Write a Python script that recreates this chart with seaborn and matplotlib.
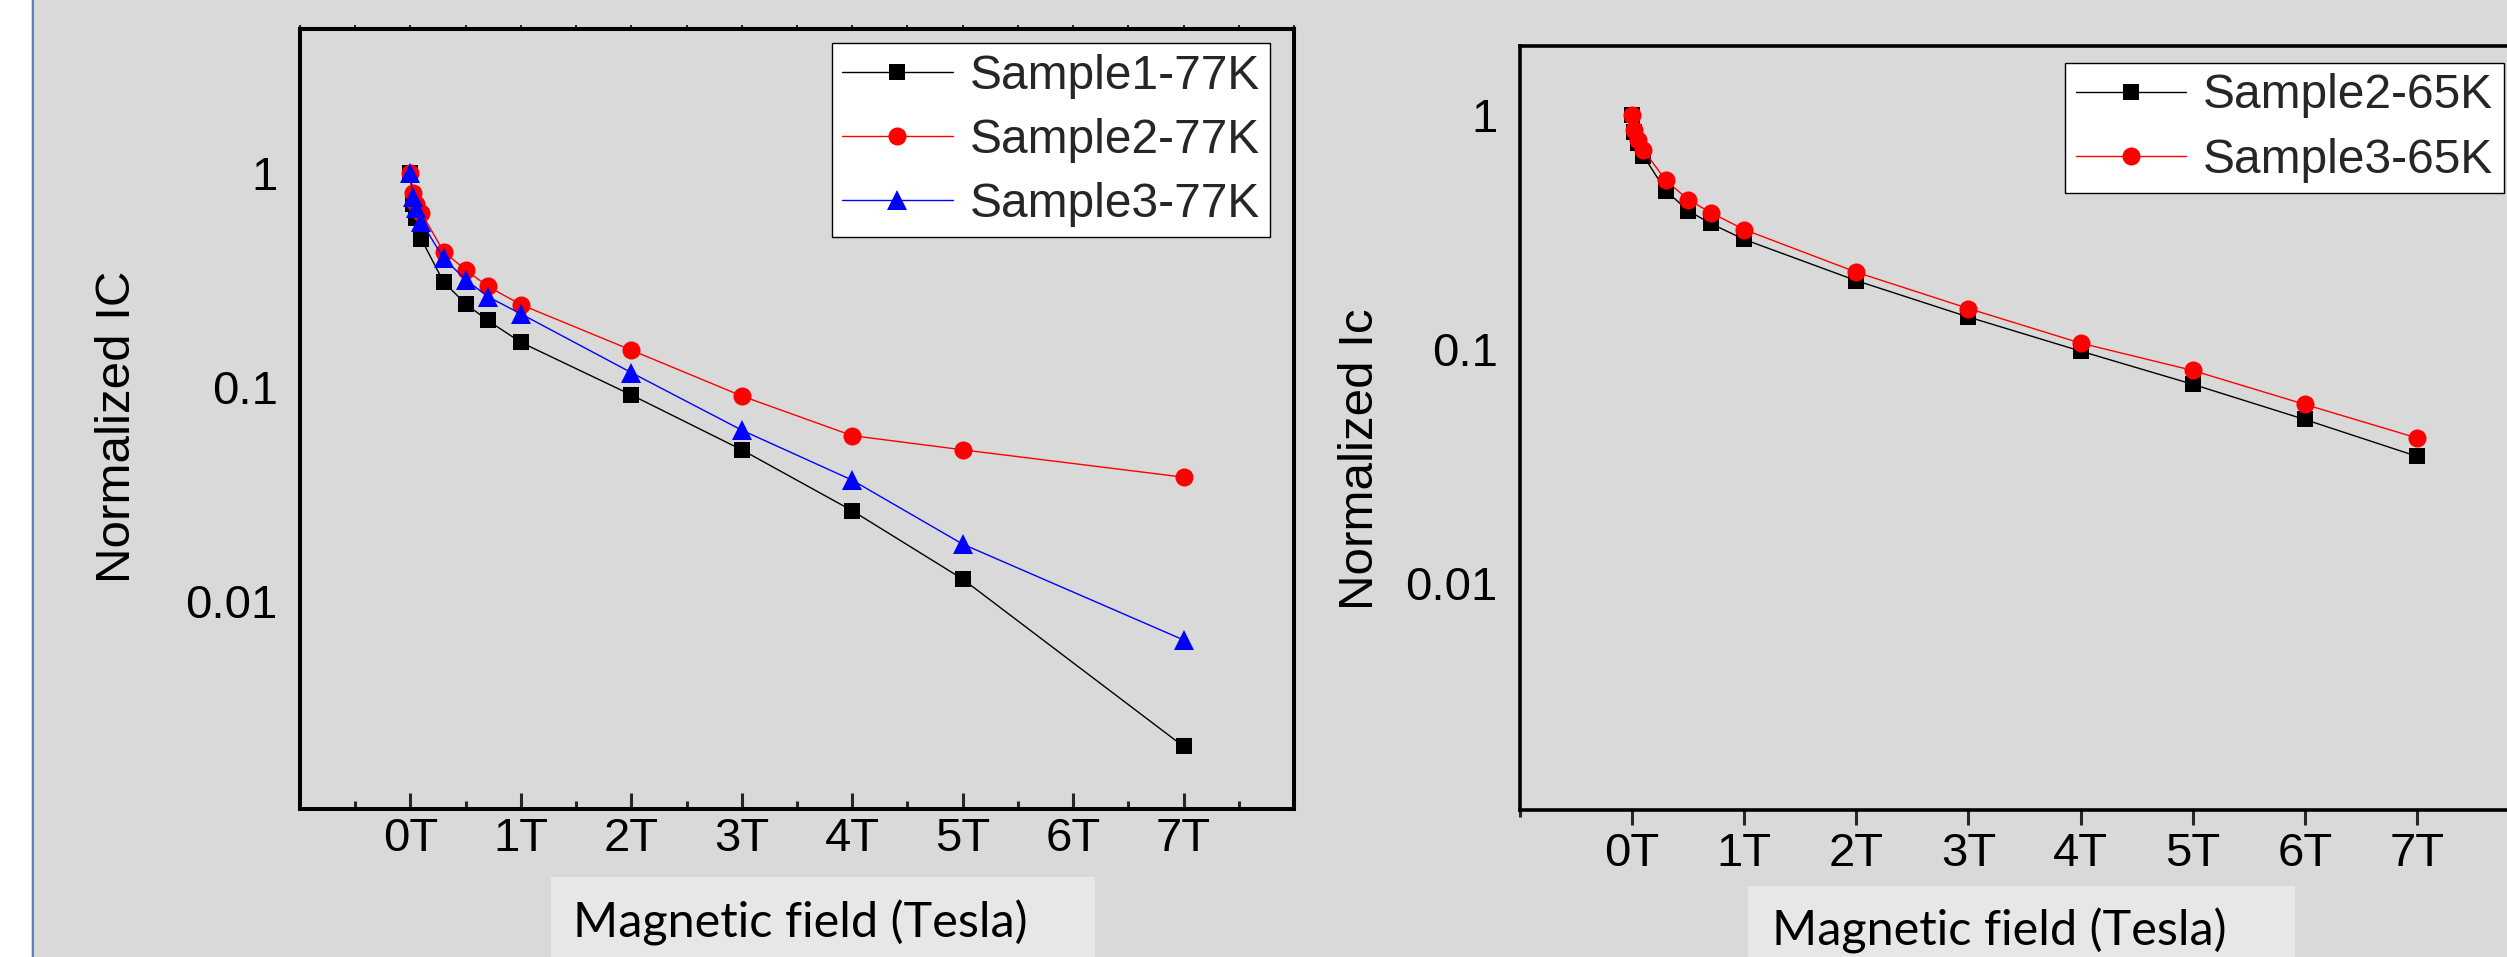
import matplotlib
matplotlib.use("Agg")
import matplotlib.pyplot as plt
from matplotlib.patches import Rectangle
from matplotlib.lines import Line2D
from matplotlib.ticker import FixedLocator, NullLocator
import seaborn as sns

# ---- data -------------------------------------------------------------
field_77k = [0, 0.02, 0.05, 0.1, 0.3, 0.5, 0.7, 1, 2, 3, 4, 5, 7]
sample1_77k = [1.0, 0.72, 0.62, 0.49, 0.31, 0.245, 0.205, 0.162, 0.092, 0.051, 0.0265, 0.0127, 0.0021]
sample2_77k = [1.0, 0.81, 0.72, 0.65, 0.43, 0.353, 0.296, 0.243, 0.149, 0.091, 0.0594, 0.051, 0.038]
sample3_77k = [1.0, 0.77, 0.69, 0.59, 0.40, 0.318, 0.265, 0.22, 0.117, 0.063, 0.0368, 0.0185, 0.0066]

field_65k = [0, 0.02, 0.05, 0.1, 0.3, 0.5, 0.7, 1, 2, 3, 4, 5, 6, 7]
sample2_65k = [1.0, 0.85, 0.76, 0.67, 0.475, 0.39, 0.344, 0.294, 0.196, 0.137, 0.098, 0.0707, 0.050, 0.0348]
sample3_65k = [1.0, 0.86, 0.78, 0.71, 0.526, 0.435, 0.383, 0.324, 0.213, 0.149, 0.106, 0.081, 0.058, 0.0417]

labels_77k = ["Sample1-77K", "Sample2-77K", "Sample3-77K"]
labels_65k = ["Sample2-65K", "Sample3-65K"]

xtick_values = [0, 1, 2, 3, 4, 5, 6, 7]
xtick_labels = ["0T", "1T", "2T", "3T", "4T", "5T", "6T", "7T"]
ytick_values = [1, 0.1, 0.01]
ytick_labels = ["1", "0.1", "0.01"]

xlabel_text = "Magnetic field (Tesla)"
ylabel_left = "Normalized IC"
ylabel_right = "Normalized Ic"

# ---- styling ----------------------------------------------------------
BG = "#D9D9D9"
BOX = "#E7E7E7"
REGULAR = ["Liberation Sans", "DejaVu Sans"]
LABEL_FONT = ["Lato", "Open Sans", "DejaVu Sans"]

sns.set_style("white")
plt.rcParams["font.family"] = REGULAR
plt.rcParams["axes.facecolor"] = BG
plt.rcParams["figure.facecolor"] = BG

series_style = {
    "black": dict(color="#000000", marker="s", markersize=12),
    "red": dict(color="#FF0000", marker="o", markersize=13),
    "blue": dict(color="#0000FF", marker="^", markersize=15),
}

W, H = 2507, 957
fig = plt.figure(figsize=(W / 100, H / 100), dpi=100, facecolor=BG)

# white margin and thin blue rule at the left edge
fig.patches.append(Rectangle((0, 0), 31 / W, 1, transform=fig.transFigure,
                             facecolor="white", edgecolor="none", zorder=0))
fig.lines.append(Line2D([32.5 / W, 32.5 / W], [0, 1], transform=fig.transFigure,
                        color="#5B82B8", linewidth=1.5))


def px_box(x0, y0, x1, y1):
    """Figure-fraction rectangle from pixel corners (top-left origin)."""
    return [x0 / W, 1 - y1 / H, (x1 - x0) / W, (y1 - y0) / H]


ax1 = fig.add_axes(px_box(300, 29, 1294, 809))
ax2 = fig.add_axes(px_box(1520, 46, 2529, 810))


def draw(ax, x, y, label, style):
    sns.lineplot(x=x, y=y, ax=ax, label=label, sort=False, estimator=None,
                 color=style["color"], marker=style["marker"],
                 markersize=style["markersize"], markeredgewidth=0,
                 linewidth=1.0, zorder=3, clip_on=False)


draw(ax1, field_77k, sample1_77k, labels_77k[0], series_style["black"])
draw(ax1, field_77k, sample2_77k, labels_77k[1], series_style["red"])
draw(ax1, field_77k, sample3_77k, labels_77k[2], series_style["blue"])

draw(ax2, field_65k, sample2_65k, labels_65k[0], series_style["black"])
draw(ax2, field_65k, sample3_65k, labels_65k[1], series_style["red"])

for ax in (ax1, ax2):
    ax.set_facecolor(BG)
    ax.set_yscale("log")
    ax.set_xlim(-1, 8)
    ax.yaxis.set_major_locator(FixedLocator(ytick_values))
    ax.set_yticklabels(ytick_labels)
    ax.yaxis.set_minor_locator(NullLocator())
    ax.xaxis.set_major_locator(FixedLocator(xtick_values))
    ax.set_xticklabels(xtick_labels)
    ax.set_xlabel("")
    for t in ax.get_xticklabels() + ax.get_yticklabels():
        t.set_fontsize(34)
        t.set_color("black")
    for s in ax.spines.values():
        s.set_color("black")
    ax.tick_params(axis="y", which="both", length=0, pad=16)

ax1.set_ylim(10 ** -2.97, 10 ** 0.673)
ax2.set_ylim(10 ** -2.97, 10 ** 0.295)

# left panel: inward ticks with half-step minors, short outward ticks on top
for s in ax1.spines.values():
    s.set_linewidth(2.9)
ax1.xaxis.set_minor_locator(FixedLocator([v + 0.5 for v in range(-1, 8)]))
ax1.tick_params(axis="x", which="major", direction="in", length=11.5, width=2.2, pad=6, bottom=True)
ax1.tick_params(axis="x", which="minor", direction="in", length=5.8, width=2.2, bottom=True)
top = ax1.secondary_xaxis("top")
top.xaxis.set_major_locator(FixedLocator([v * 0.5 for v in range(-2, 17)]))
top.tick_params(direction="out", length=3, width=1.5, labeltop=False)
top.spines["top"].set_linewidth(2.9)

# right panel: outward ticks, open on the right
for s in ax2.spines.values():
    s.set_linewidth(2.6)
ax2.spines["right"].set_visible(False)
ax2.xaxis.set_minor_locator(FixedLocator([-1]))
ax2.tick_params(axis="x", which="major", direction="out", length=10.8, width=2.2, pad=5, bottom=True)
ax2.tick_params(axis="x", which="minor", direction="out", length=5, width=2.2, bottom=True)

# axis titles
ax1.set_ylabel(ylabel_left, fontsize=35.5, va="center", color="black")
ax1.yaxis.set_label_coords((117 - 300) / 994, (809 - 427) / 780)
ax2.set_ylabel(ylabel_right, fontsize=35.5, va="center", color="black")
ax2.yaxis.set_label_coords((1361 - 1520) / 1009, (810 - 459) / 764)

# legends
leg_kw = dict(loc="upper right", fontsize=34.5, frameon=True, fancybox=False,
              shadow=False, borderaxespad=0, borderpad=0.22, handletextpad=0.35,
              labelspacing=0.4, handlelength=2.3, framealpha=1)
for ax, anchor in ((ax1, (0.976, 0.982)), (ax2, (0.975, 0.978))):
    leg = ax.legend(bbox_to_anchor=anchor, **leg_kw)
    leg.get_frame().set_edgecolor("black")
    leg.get_frame().set_linewidth(1.0)
    leg.get_frame().set_facecolor("white")
    leg.set_zorder(5)

# x-axis captions on lighter boxes below each panel
for x0, y0, x1, tx, ty in ((551, 877, 1095, 573, 937), (1748, 886, 2295, 1772, 945)):
    fig.patches.append(Rectangle((x0 / W, 0), (x1 - x0) / W, 1 - y0 / H,
                                 transform=fig.transFigure, facecolor=BOX,
                                 edgecolor="none", zorder=1))
    fig.text(tx / W, 1 - ty / H, xlabel_text, fontsize=35, family=LABEL_FONT,
             ha="left", va="baseline", color="black", zorder=2)

fig.savefig("out.png", dpi=100, facecolor=BG)
